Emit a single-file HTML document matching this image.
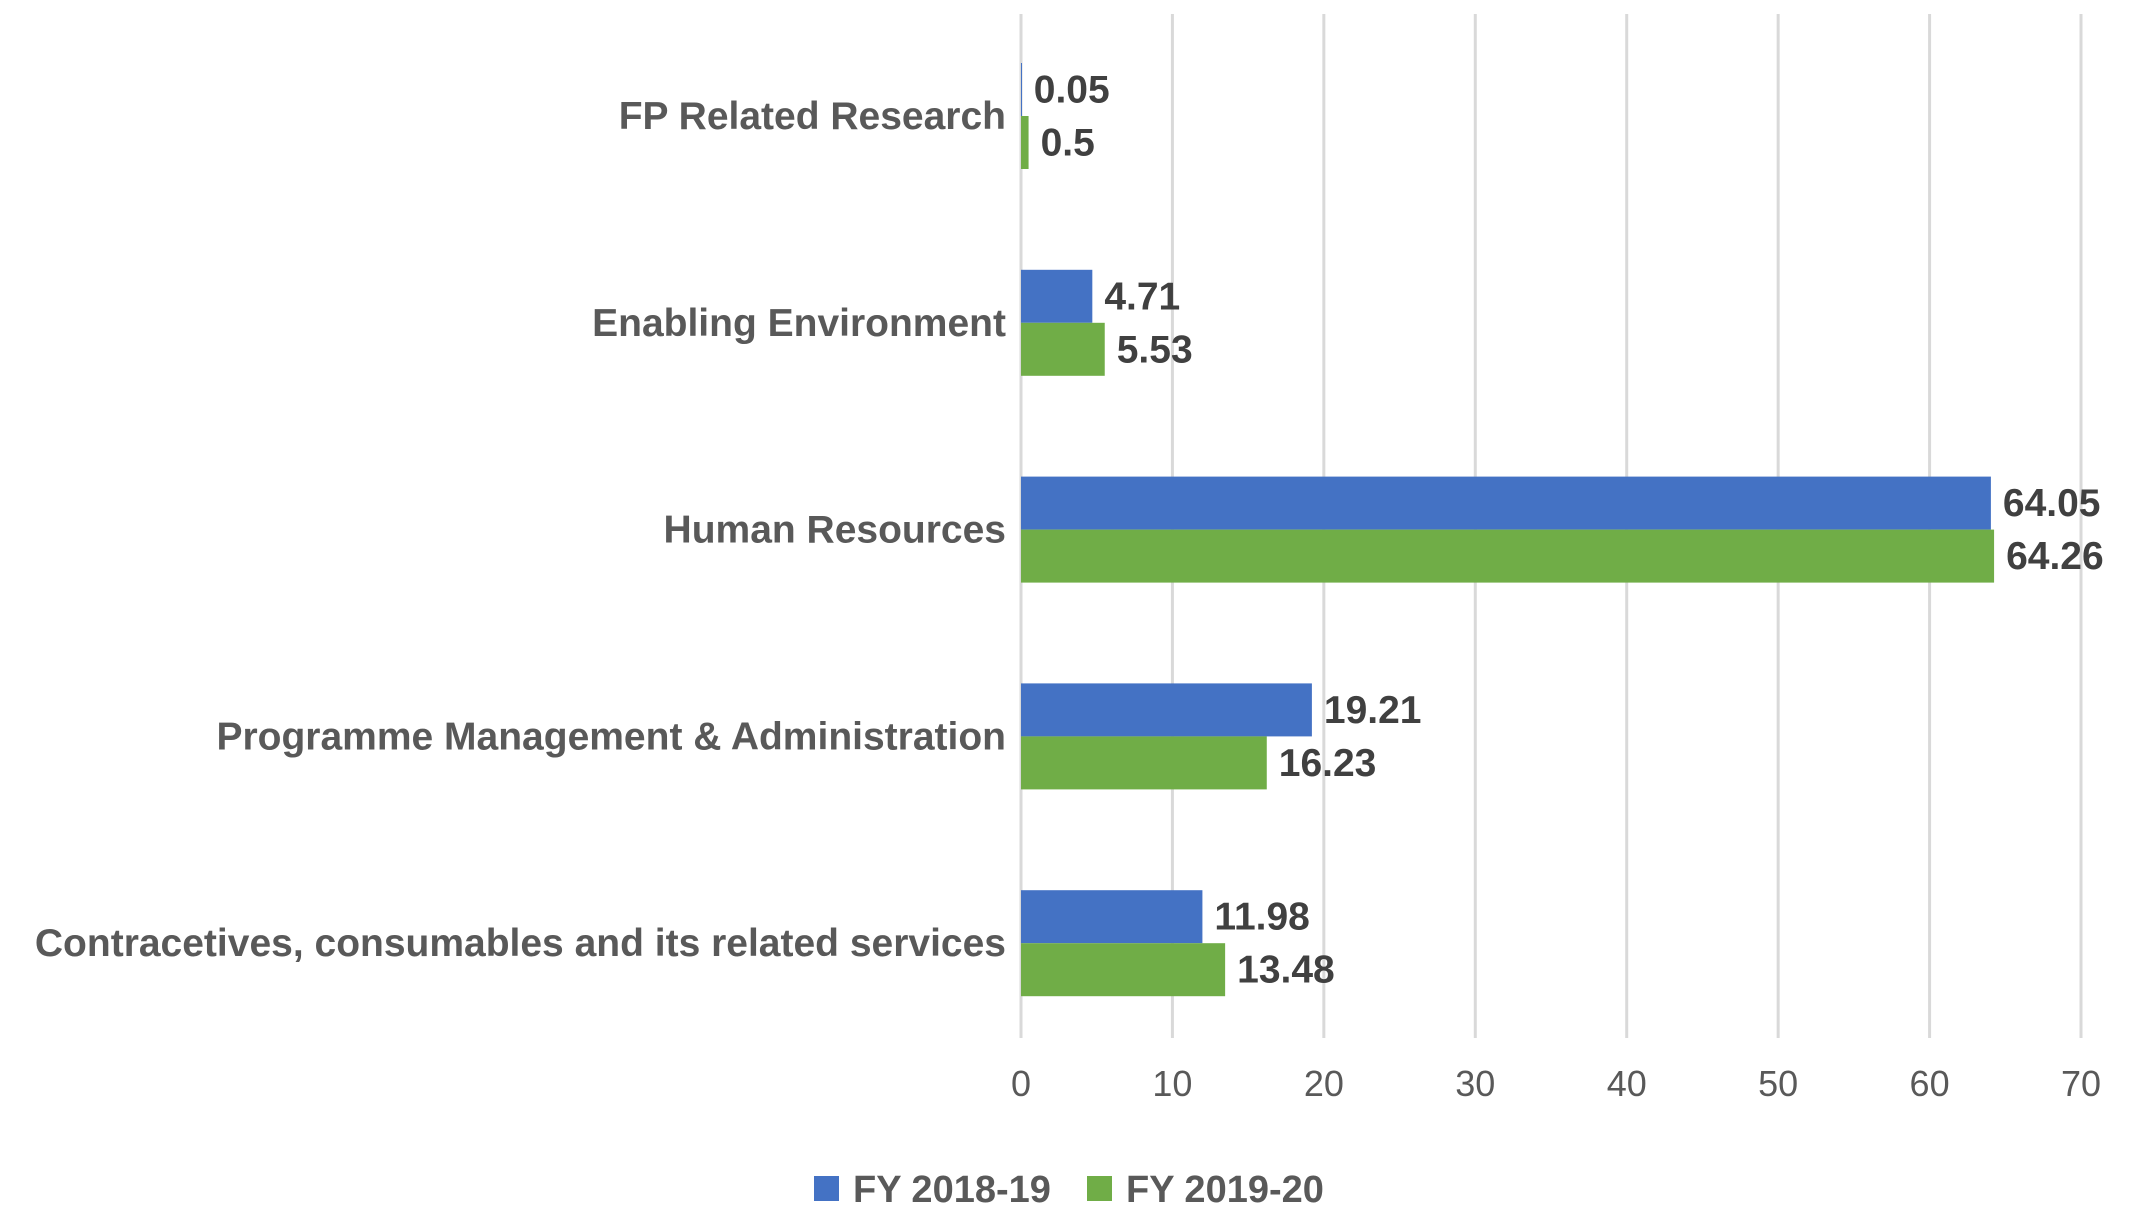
<!DOCTYPE html>
<html><head><meta charset="utf-8"><style>
html,body{margin:0;padding:0;background:#fff;}
svg{display:block;font-family:"Liberation Sans",sans-serif;}
</style></head><body>
<svg id="chart" width="2136" height="1220"></svg>
<script>
const categories = ["FP Related Research","Enabling Environment","Human Resources","Programme Management & Administration","Contracetives, consumables and its related services"];
const series1 = [0.05, 4.71, 64.05, 19.21, 11.98];
const series2 = [0.5, 5.53, 64.26, 16.23, 13.48];
const seriesNames = ["FY 2018-19","FY 2019-20"];
const tickValues = [0,10,20,30,40,50,60,70];

const NS="http://www.w3.org/2000/svg";
const svg=document.getElementById('chart');
const X0=1021, X1=2081, XMAX=70, TOP=14, BOT=1038;
const xs=v=>X0+(v/XMAX)*(X1-X0);
const catC=i=>116+i*206.8;
const BH=53;
function el(t,a,p){const e=document.createElementNS(NS,t);for(const k in a)e.setAttribute(k,a[k]);(p||svg).appendChild(e);return e;}

const grid=el('g',{});


tickValues.forEach(v=>{
  const l=el('line',{x1:xs(v),x2:xs(v),y1:TOP,y2:BOT,stroke:'#d9d9d9','stroke-width':3},grid);
  
  
  const t=el('text',{x:xs(v),y:1096,'text-anchor':'middle','font-size':36,fill:'#595959'});
  t.textContent=v;
  
  
});

const colors=['#4472C4','#70AD47'];
[series1,series2].forEach((s,si)=>{
  s.forEach((v,i)=>{
    const y=catC(i)-BH+si*BH;
    const r=el('rect',{x:X0,y:y,width:Math.max(1,xs(v)-X0),height:BH,fill:colors[si]});
    
    
    const t=el('text',{x:xs(v)+12,y:y+BH/2+13,'font-size':39,'font-weight':'bold',fill:'#404040'});
    t.textContent=v;
    
    
  });
});

categories.forEach((c,i)=>{
  const t=el('text',{x:1006,y:catC(i)+13,'text-anchor':'end','font-size':39,'font-weight':'bold',fill:'#595959'});
  t.textContent=c;
  
  
});

const lx=[814,1087];
seriesNames.forEach((n,i)=>{
  const r=el('rect',{x:lx[i],y:1176,width:25,height:25,fill:colors[i]});
  
  
  const t=el('text',{x:lx[i]+39,y:1202,'font-size':38,'font-weight':'bold',fill:'#595959'});
  t.textContent=n;
  
  
});
</script>
</body></html>
